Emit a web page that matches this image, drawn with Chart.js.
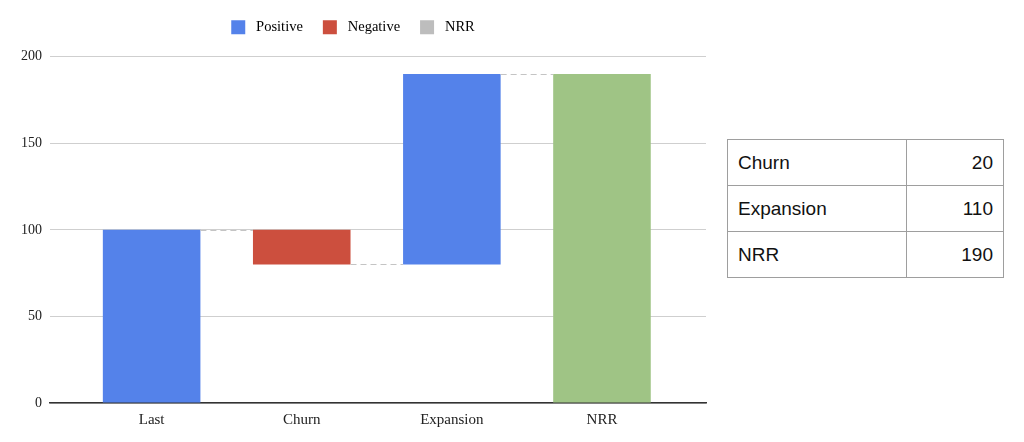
<!DOCTYPE html>
<html>
<head>
<meta charset="utf-8">
<script src="https://cdn.jsdelivr.net/npm/chart.js@4"></script>
<style>
  body { margin: 0; background: #fff; width: 1024px; height: 442px; overflow: hidden; position: relative; }
  #wrap { position: absolute; left: 0; top: 0; width: 720px; height: 442px; }
  table { position: absolute; left: 727px; top: 139px; border-collapse: collapse; font-family: "Liberation Sans", Arial, sans-serif; font-size: 19px; color: #111; }
  td { border: 1px solid #9e9e9e; height: 45px; padding: 0 10px; }
  td.name { width: 158px; }
  td.val { width: 76px; text-align: right; }
</style>
</head>
<body>
<div id="wrap"><canvas id="myChart"></canvas></div>
<table id="tbl"></table>
<script>
const categories = ['Last', 'Churn', 'Expansion', 'NRR'];
// starting value, churn, expansion, then the total
const steps = [100, -20, 110, 190];
const legendNames = ['Positive', 'Negative', 'NRR'];
const legendColors = ['#5482ea', '#cc4f3e', '#bdbdbd'];
const barColors = ['#5482ea', '#cc4f3e', '#9fc485'];

const tableLabels = ['Churn', 'Expansion', 'NRR'];
const tableValues = [20, 110, 190];

var tbl = document.getElementById('tbl');
for (let i = 0; i < tableLabels.length; i++) {
    var tr = document.createElement('tr');
    tr.innerHTML = '<td class="name">' + tableLabels[i] + '</td><td class="val">' + tableValues[i] + '</td>';
    tbl.appendChild(tr);
}

// build floating ranges
var posData = [];
var negData = [];
var totData = [];
var levels = [];
var running = 0;
for (let i = 0; i < steps.length; i++) {
    if (i == steps.length - 1) {
        totData.push({ x: i, y: [0, steps[i]] });
        running = steps[i];
    } else if (steps[i] >= 0) {
        posData.push({ x: i, y: [running, running + steps[i]] });
        running += steps[i];
    } else {
        negData.push({ x: i, y: [running + steps[i], running] });
        running += steps[i];
    }
    levels.push(running);
}

const connectors = {
    id: 'connectors',
    afterDatasetsDraw(chart) {
        var xs = chart.scales.x, ys = chart.scales.y, c = chart.ctx;
        var half = (xs.getPixelForValue(1) - xs.getPixelForValue(0)) * 0.65 / 2;
        c.save();
        c.strokeStyle = '#c4c4c4';
        c.lineWidth = 1;
        c.setLineDash([6, 4]);
        for (let i = 0; i < levels.length - 1; i++) {
            var y = Math.round(ys.getPixelForValue(levels[i])) + 0.5;
            c.beginPath();
            c.moveTo(xs.getPixelForValue(i) + half, y);
            c.lineTo(xs.getPixelForValue(i + 1) - half, y);
            c.stroke();
        }
        c.restore();
    }
};

const serif = '"Liberation Serif", "Times New Roman", serif';

new Chart(document.getElementById('myChart'), {
    type: 'bar',
    data: {
        datasets: [
            { label: legendNames[0], data: posData, backgroundColor: barColors[0] },
            { label: legendNames[1], data: negData, backgroundColor: barColors[1] },
            { label: legendNames[2], data: totData, backgroundColor: barColors[2] }
        ]
    },
    options: {
        responsive: true,
        maintainAspectRatio: false,
        animation: false,
        grouped: false,
        barPercentage: 0.65,
        categoryPercentage: 1,
        layout: { padding: { top: 0, right: 14, left: 0, bottom: 0 } },
        plugins: {
            tooltip: { enabled: false },
            // empty spacer between legend and plot
            subtitle: { display: true, text: '', weight: 500, font: { size: 1 }, padding: { top: 0, bottom: 11 } },
            legend: {
                position: 'top',
                labels: {
                    boxWidth: 14,
                    boxHeight: 14,
                    color: '#222',
                    font: { family: serif, size: 14.5 },
                    padding: 20,
                    generateLabels: function (chart) {
                        return legendNames.map(function (n, i) {
                            return { text: ' ' + n, fillStyle: legendColors[i], strokeStyle: legendColors[i], lineWidth: 0, datasetIndex: i };
                        });
                    }
                }
            }
        },
        scales: {
            x: {
                type: 'linear',
                offset: false,
                min: -0.677,
                max: 3.693,
                grid: { display: false },
                border: { display: true, color: '#333', width: 1.5 },
                afterBuildTicks: function (scale) {
                    scale.ticks = categories.map(function (c, i) { return { value: i }; });
                },
                afterFit: function (scale) { scale.height = 39; },
                ticks: {
                    color: '#222',
                    font: { family: serif, size: 15 },
                    padding: 0,
                    maxRotation: 0,
                    autoSkip: false,
                    callback: function (v) { return categories[v]; }
                }
            },
            y: {
                min: 0,
                max: 200,
                afterFit: function (scale) { scale.width = 50; },
                grid: { color: '#cfcfcf', drawTicks: false },
                border: { display: false },
                ticks: { stepSize: 50, color: '#222', font: { family: serif, size: 14 }, padding: 8 }
            }
        }
    },
    plugins: [connectors]
});
</script>
</body>
</html>
